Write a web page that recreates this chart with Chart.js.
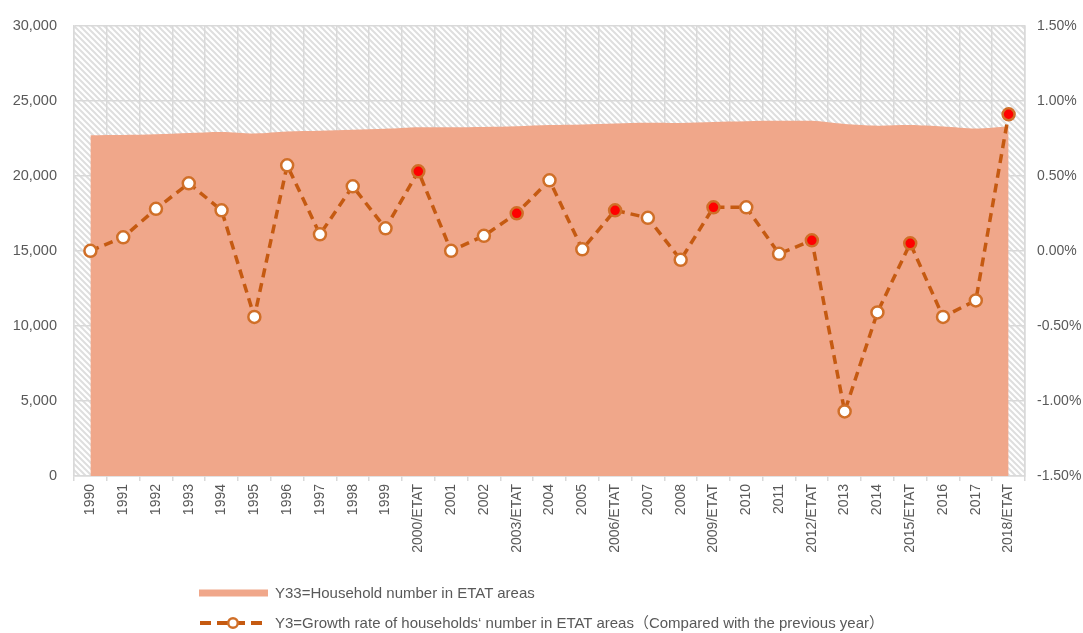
<!DOCTYPE html>
<html>
<head>
<meta charset="utf-8">
<script src="https://cdn.jsdelivr.net/npm/chart.js@4.4.1/dist/chart.umd.min.js"></script>
<style>
  html, body { margin: 0; padding: 0; background: #fff; }
  #wrap { position: relative; width: 1083px; height: 633px; font-family: "Liberation Sans", "Noto Sans CJK SC", sans-serif; }
  #legend { position: absolute; left: 199px; top: 580px; color: #595959; font-size: 15px; }
  .row { position: absolute; left: 0; white-space: nowrap; height: 20px; line-height: 20px; }
  .row svg { position: absolute; left: 0; top: 0; }
  .row span { position: absolute; left: 76px; top: 0; }
</style>
</head>
<body>
<div id="wrap">
  <canvas id="chart" width="1083" height="633"></canvas>
  <div id="legend">
    <div class="row" style="top:3px">
      <svg width="72" height="20"><rect x="0" y="6.5" width="69" height="7" fill="#F0A78A"/></svg>
      <span>Y33=Household number in ETAT areas</span>
    </div>
    <div class="row" style="top:33px">
      <svg width="72" height="20">
        <line x1="1" y1="10" x2="69" y2="10" stroke="#C55A11" stroke-width="4" stroke-dasharray="11,6"/>
        <circle cx="34" cy="10" r="4.8" fill="#fff" stroke="#D06F28" stroke-width="2.5"/>
      </svg>
      <span>Y3=Growth rate of households‘ number in ETAT areas（Compared with the previous year）</span>
    </div>
  </div>
</div>
<script>
const years = ['1990', '1991', '1992', '1993', '1994', '1995', '1996', '1997', '1998', '1999',
  '2000/ETAT', '2001', '2002', '2003/ETAT', '2004', '2005', '2006/ETAT', '2007', '2008', '2009/ETAT',
  '2010', '2011', '2012/ETAT', '2013', '2014', '2015/ETAT', '2016', '2017', '2018/ETAT'];

// Y33 household number (left axis)
const households = [22700, 22710, 22760, 22850, 22920, 22820, 22950, 23000, 23070, 23130,
  23230, 23230, 23250, 23300, 23380, 23420, 23480, 23530, 23520, 23590,
  23640, 23660, 23660, 23450, 23340, 23380, 23280, 23150, 23280];

// Y3 growth rate, percent (right axis)
const growthRate = [0.00, 0.09, 0.28, 0.45, 0.27, -0.44, 0.57, 0.11, 0.43, 0.15,
  0.53, 0.00, 0.10, 0.25, 0.47, 0.01, 0.27, 0.22, -0.06, 0.29,
  0.29, -0.02, 0.07, -1.07, -0.41, 0.05, -0.44, -0.33, 0.91];

const leftTicks = [0, 5000, 10000, 15000, 20000, 25000, 30000];
const rightTicks = [-1.5, -1.0, -0.5, 0, 0.5, 1.0, 1.5];

const textColor = '#595959';
const gridColor = '#D9D9D9';

// red marker for ETAT years
const pointFill = years.map(y => y.includes('ETAT') ? '#FF0000' : '#FFFFFF');

function hatchPattern(ctx) {
  const c = document.createElement('canvas');
  c.width = 6; c.height = 6;
  const g = c.getContext('2d');
  g.strokeStyle = '#DEDEDE';
  g.lineWidth = 2;
  g.beginPath();
  g.moveTo(-1, -1); g.lineTo(7, 7);
  g.moveTo(-1, 5); g.lineTo(1, 7);
  g.moveTo(5, -1); g.lineTo(7, 1);
  g.stroke();
  return ctx.createPattern(c, 'repeat');
}

const hatchBg = {
  id: 'hatchBg',
  beforeDraw(chart) {
    const { ctx, chartArea: a } = chart;
    ctx.save();
    ctx.fillStyle = '#fff';
    ctx.fillRect(a.left, a.top, a.right - a.left, a.bottom - a.top);
    ctx.fillStyle = hatchPattern(ctx);
    ctx.fillRect(a.left, a.top, a.right - a.left, a.bottom - a.top);
    ctx.restore();
  }
};

const ctx = document.getElementById('chart').getContext('2d');
new Chart(ctx, {
  data: {
    labels: years,
    datasets: [
      {
        type: 'line',
        label: 'Y3',
        data: growthRate,
        yAxisID: 'yRight',
        order: 0,
        borderColor: '#C55A11',
        borderWidth: 3.5,
        borderDash: [9, 6],
        pointRadius: 6,
        pointBorderWidth: 2.5,
        pointBorderColor: '#D06F28',
        pointBackgroundColor: pointFill,
        fill: false,
        tension: 0
      },
      {
        type: 'line',
        label: 'Y33',
        data: households,
        yAxisID: 'yLeft',
        order: 1,
        backgroundColor: '#F0A78A',
        borderWidth: 0,
        pointRadius: 0,
        fill: 'origin',
        tension: 0.3
      }
    ]
  },
  options: {
    responsive: false,
    animation: false,
    layout: { padding: { top: 24, bottom: 69, left: 0, right: 0 } },
    plugins: {
      legend: { display: false },
      tooltip: { enabled: false }
    },
    scales: {
      x: {
        offset: true,
        grid: { offset: true, color: gridColor, lineWidth: 1.5, tickLength: 5 },
        border: { color: gridColor, width: 1.5 },
        ticks: {
          color: textColor,
          font: { size: 14 },
          minRotation: 90,
          maxRotation: 90,
          autoSkip: false,
          padding: 3
        },
        afterFit(s) { s.height = 88; }
      },
      yLeft: {
        position: 'left',
        min: 0,
        max: 30000,
        afterBuildTicks(s) { s.ticks = leftTicks.map(v => ({ value: v })); },
        grid: { color: gridColor, lineWidth: 1.5, drawTicks: false },
        border: { color: gridColor, width: 1.5 },
        ticks: {
          color: textColor,
          font: { size: 14.5 },
          padding: 17,
          callback: v => v.toLocaleString('en-US')
        },
        afterFit(s) { s.width = 74; }
      },
      yRight: {
        position: 'right',
        min: -1.5,
        max: 1.5,
        afterBuildTicks(s) { s.ticks = rightTicks.map(v => ({ value: v })); },
        grid: { display: false, drawTicks: false },
        border: { color: gridColor, width: 1.5 },
        ticks: {
          color: textColor,
          font: { size: 14 },
          padding: 12,
          callback: v => v.toFixed(2) + '%'
        },
        afterFit(s) { s.width = 58; }
      }
    }
  },
  plugins: [hatchBg]
});
</script>
</body>
</html>
